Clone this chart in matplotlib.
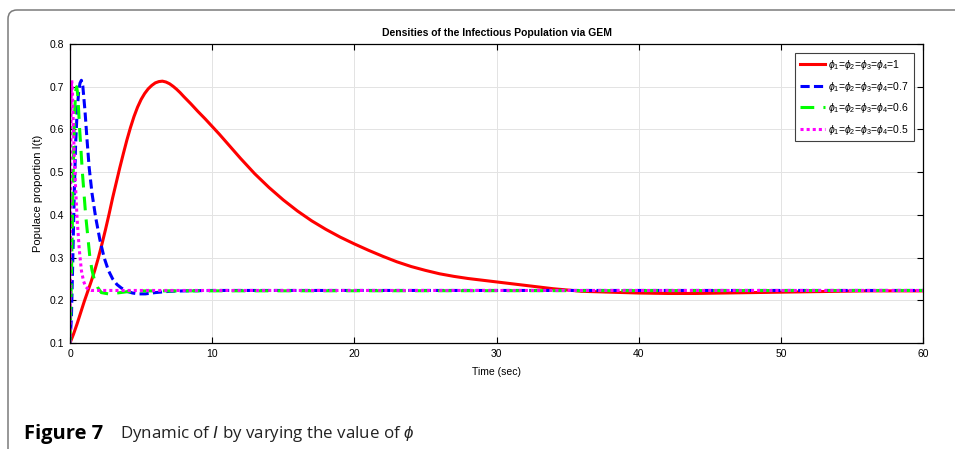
import matplotlib
matplotlib.use("Agg")
import matplotlib.pyplot as plt
from matplotlib.patches import FancyBboxPatch

plt.rcParams['font.family'] = ['Liberation Sans', 'DejaVu Sans']
plt.rcParams['mathtext.fontset'] = 'custom'
plt.rcParams['mathtext.rm'] = 'Liberation Sans'
plt.rcParams['mathtext.it'] = 'Liberation Sans:italic'

# values
t_red = [0, 0.25, 0.5, 0.75, 1.0, 1.25, 1.5, 1.75, 2.0, 2.25, 2.5, 2.75, 3.0, 3.25, 3.5,
         3.75, 4.0, 4.25, 4.5, 4.75, 5.0, 5.25, 5.5, 5.75, 6.0, 6.25, 6.5, 6.75, 7.0, 7.25,
         7.5, 7.75, 8.0, 8.5, 9.0, 9.5, 10, 10.5, 11, 11.5, 12, 12.5, 13, 13.5, 14, 15, 16,
         17, 18, 19, 20, 21, 22, 23, 24, 25, 26, 27, 28, 29, 30, 31, 32, 33, 34, 35, 36,
         38, 40, 42, 44, 46, 48, 50, 52, 54, 56, 58, 60]
i_red = [0.1, 0.121, 0.145, 0.171, 0.197, 0.221, 0.245, 0.271, 0.3, 0.332, 0.366, 0.402,
         0.44, 0.475, 0.51, 0.543, 0.575, 0.604, 0.63, 0.652, 0.67, 0.684, 0.695, 0.703,
         0.709, 0.712, 0.713, 0.711, 0.707, 0.701, 0.694, 0.686, 0.677, 0.66, 0.642,
         0.625, 0.607, 0.589, 0.57, 0.551, 0.532, 0.514, 0.496, 0.48, 0.464, 0.435, 0.409,
         0.386, 0.366, 0.348, 0.332, 0.317, 0.303, 0.29, 0.279, 0.27, 0.262, 0.256, 0.251,
         0.247, 0.243, 0.239, 0.235, 0.231, 0.227, 0.224, 0.221, 0.219, 0.217, 0.216,
         0.216, 0.217, 0.218, 0.219, 0.22, 0.221, 0.222, 0.222, 0.222]

t_blue = [0, 0.1, 0.2, 0.3, 0.4, 0.5, 0.6, 0.7, 0.8, 0.9, 1.05, 1.2, 1.35, 1.55, 1.8, 2.1,
          2.4, 2.7, 3.0, 3.3, 3.6, 4.0, 4.4, 4.8, 5.3, 6.0, 7.0, 8.0, 10, 60]
i_blue = [0.1, 0.16, 0.3, 0.45, 0.57, 0.64, 0.685, 0.708, 0.715, 0.702, 0.645, 0.575,
          0.51, 0.45, 0.395, 0.342, 0.3, 0.27, 0.25, 0.237, 0.229, 0.221, 0.217, 0.215,
          0.215, 0.218, 0.221, 0.222, 0.223, 0.223]

t_green = [0, 0.1, 0.2, 0.3, 0.4, 0.47, 0.55, 0.68, 0.87, 1.1, 1.25, 1.4, 1.55, 1.7, 1.95,
           2.2, 2.7, 3.3, 4.0, 5.0, 60]
i_green = [0.1, 0.25, 0.45, 0.62, 0.69, 0.70, 0.68, 0.6, 0.5, 0.4, 0.35, 0.3, 0.27, 0.25,
           0.23, 0.218, 0.215, 0.217, 0.22, 0.222, 0.223]

t_mag = [0, 0.03, 0.06, 0.09, 0.12, 0.16, 0.2, 0.28, 0.37, 0.5, 0.65, 0.8, 0.95, 1.1, 1.3,
         1.5, 60]
i_mag = [0.1, 0.3, 0.55, 0.69, 0.715, 0.7, 0.65, 0.56, 0.48, 0.39, 0.32, 0.27, 0.245,
         0.232, 0.225, 0.223, 0.223]

labels = [r'$\phi_1$=$\phi_2$=$\phi_3$=$\phi_4$=1',
          r'$\phi_1$=$\phi_2$=$\phi_3$=$\phi_4$=0.7',
          r'$\phi_1$=$\phi_2$=$\phi_3$=$\phi_4$=0.6',
          r'$\phi_1$=$\phi_2$=$\phi_3$=$\phi_4$=0.5']
x_ticks = [0, 10, 20, 30, 40, 50, 60]
y_ticks = [0.1, 0.2, 0.3, 0.4, 0.5, 0.6, 0.7, 0.8]

fig = plt.figure(figsize=(9.55, 4.49), dpi=100)
ax = fig.add_axes([70 / 955, 1 - 343 / 449, 853 / 955, 299 / 449])

lw = 2.2
ax.plot(t_red, i_red, color='red', lw=lw, label=labels[0])
ax.plot(t_blue, i_blue, color='blue', lw=lw, dashes=(3, 1.4), label=labels[1])
ax.plot(t_green, i_green, color='#00ff00', lw=lw, dashes=(4.5, 3), label=labels[2])
ax.plot(t_mag, i_mag, color='magenta', lw=lw, dashes=(1, 1), label=labels[3])

ax.set_xlim(0, 60)
ax.set_ylim(0.1, 0.8)
ax.set_xticks(x_ticks)
ax.set_yticks(y_ticks)
ax.set_yticklabels([f'{v:.1f}' for v in y_ticks])
ax.tick_params(direction='in', length=4, width=0.8, top=True, right=True,
               labelsize=7.5, pad=4)
ax.grid(True, color='#e3e3e3', lw=0.7)
ax.set_axisbelow(True)
for s in ax.spines.values():
    s.set_linewidth(0.9)

ax.set_title('Densities of the Infectious Population via GEM', fontsize=7.5,
             fontweight='bold', pad=6)
ax.set_xlabel('Time (sec)', fontsize=7.5, labelpad=6)
ax.set_ylabel('Populace proportion I(t)', fontsize=8, labelpad=5)

leg = ax.legend(loc='upper right', fontsize=7.5, handlelength=2.4, handletextpad=0.3,
                labelspacing=0.72, borderaxespad=0.9, fancybox=False, framealpha=1,
                edgecolor='#404040', borderpad=0.45)
leg.get_frame().set_linewidth(0.8)

# outer figure box with rounded top-left corner
box = FancyBboxPatch((0.08, -1.0), 20, 5.39, boxstyle='round,pad=0,rounding_size=0.09',
                     transform=fig.dpi_scale_trans, facecolor='none',
                     edgecolor='#7a7a7a', lw=1.1, clip_on=False)
fig.add_artist(box)

fig.text(24 / 955, 15 / 449, 'Figure 7', fontsize=14.5, fontweight='bold',
         family=['Open Sans', 'DejaVu Sans'], va='center', ha='left')
fig.text(120 / 955, 15 / 449, r'Dynamic of $\mathit{I}$ by varying the value of $\phi$',
         fontsize=12.2, family=['Open Sans', 'DejaVu Sans'], va='center', ha='left',
         color='#222222')

fig.savefig('out.png', dpi=100)
